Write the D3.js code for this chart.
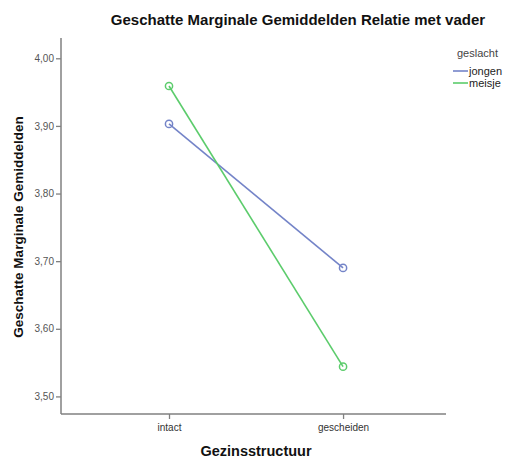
<!DOCTYPE html>
<html><head><meta charset="utf-8">
<script src="https://cdn.jsdelivr.net/npm/d3@7"></script>
<style>body{margin:0;background:#fff}svg{display:block}</style>
</head><body>
<svg id="c" width="505" height="459"></svg>
<script>
const categories = ["intact", "gescheiden"];
const seriesNames = ["jongen", "meisje"];
const jongen = [3.903, 3.690];
const meisje = [3.959, 3.544];
const yTicks = [3.50, 3.60, 3.70, 3.80, 3.90, 4.00];
const colors = ["#7484c8", "#5ccc6c"];

const svg = d3.select("#c");
const font = "'Liberation Sans', Arial, sans-serif";
const x = d3.scalePoint().domain(categories).range([61, 446]).padding(0.606).align(0.512);
const y = d3.scaleLinear().domain([3.474, 4.030]).range([414, 38]);

const axisColor = "#808080";
// y axis
const ya = svg.append("g").attr("transform", "translate(61,0)")
  .call(d3.axisLeft(y).tickValues(yTicks).tickSize(5).tickPadding(2)
    .tickFormat(d => d3.format(".2f")(d).replace(".", ",")));
ya.select(".domain").attr("stroke", axisColor).attr("stroke-width", 1.5).attr("d", `M0,${y.range()[0]}V${y.range()[1]}`);
ya.selectAll(".tick line").attr("stroke", axisColor).attr("stroke-width", 1.3);
ya.selectAll(".tick text").attr("fill", "#555").style("font-family", font).style("font-size", "10px");

// x axis
const xa = svg.append("g").attr("transform", "translate(0,414)")
  .call(d3.axisBottom(x).tickSize(5).tickPadding(5));
xa.select(".domain").attr("stroke", axisColor).attr("stroke-width", 1.5).attr("d", `M${x.range()[0]},0H${x.range()[1]}`);
xa.selectAll(".tick line").attr("stroke", axisColor).attr("stroke-width", 1.3);
xa.selectAll(".tick text").attr("fill", "#333").style("font-family", font).style("font-size", "10px");

// lines
const series = [jongen, meisje];
const line = d3.line().x((d, i) => x(categories[i])).y(d => y(d));
series.forEach((s, k) => {
  svg.append("path").datum(s).attr("d", line).attr("fill", "none")
    .attr("stroke", colors[k]).attr("stroke-width", 1.6);
  svg.selectAll(null).data(s).enter().append("circle")
    .attr("cx", (d, i) => x(categories[i])).attr("cy", d => y(d)).attr("r", 3.6)
    .attr("fill", "none").attr("stroke", colors[k]).attr("stroke-width", 1.5);
});

// title
svg.append("text").attr("x", 298).attr("y", 25).attr("text-anchor", "middle")
  .style("font-family", font).style("font-size", "15px").style("font-weight", "bold").attr("fill", "#111")
  .text("Geschatte Marginale Gemiddelden Relatie met vader");
// axis titles
svg.append("text").attr("transform", "translate(23,227) rotate(-90)").attr("text-anchor", "middle")
  .style("font-family", font).style("font-size", "13.5px").style("font-weight", "bold").attr("fill", "#111")
  .text("Geschatte Marginale Gemiddelden");
svg.append("text").attr("x", 256).attr("y", 456).attr("text-anchor", "middle")
  .style("font-family", font).style("font-size", "14.5px").style("font-weight", "bold").attr("fill", "#111")
  .text("Gezinsstructuur");

// legend
svg.append("text").attr("x", 457).attr("y", 57)
  .style("font-family", font).style("font-size", "11px").attr("fill", "#444").text("geslacht");
seriesNames.forEach((n, k) => {
  const ly = 71 + k * 12;
  svg.append("line").attr("x1", 453).attr("x2", 468).attr("y1", ly).attr("y2", ly)
    .attr("stroke", colors[k]).attr("stroke-width", 1.6);
  svg.append("text").attr("x", 469).attr("y", ly + 4)
    .style("font-family", font).style("font-size", "11px").attr("fill", "#222").text(n);
});
</script>
</body></html>
